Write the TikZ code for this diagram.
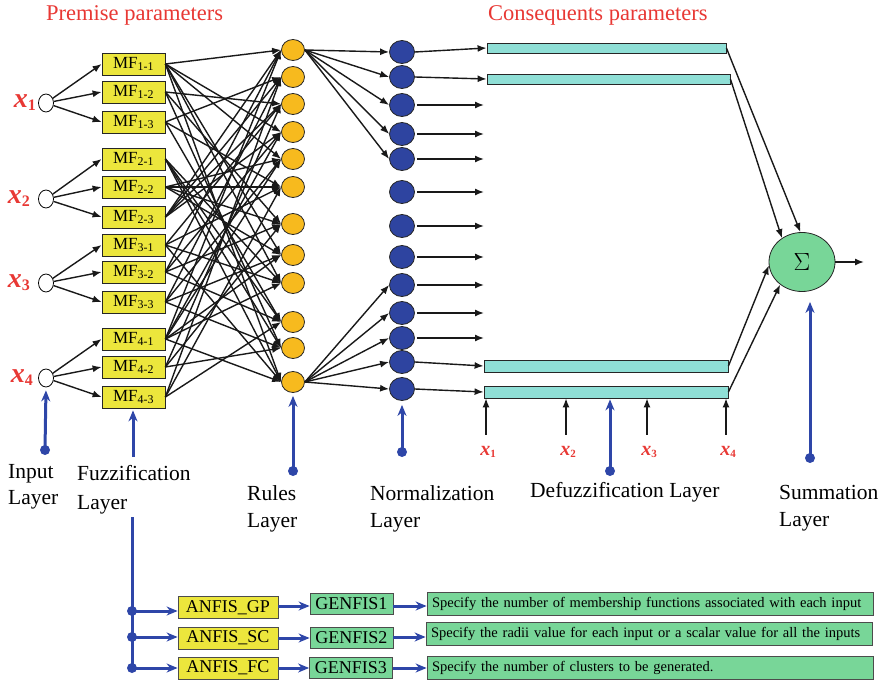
\documentclass[tikz,border=0pt]{standalone}
\usepackage{fontspec}
\setmainfont{Liberation Serif}
\usetikzlibrary{arrows.meta,positioning,shapes.geometric}

\definecolor{mfyellow}{RGB}{236,230,60}
\definecolor{ruleorange}{RGB}{247,186,30}
\definecolor{normblue}{RGB}{46,68,160}
\definecolor{barcyan}{RGB}{143,223,214}
\definecolor{sumgreen}{RGB}{120,214,152}
\definecolor{labred}{RGB}{232,56,52}
\definecolor{layerblue}{RGB}{46,70,168}

\begin{document}
\begin{tikzpicture}[x=1pt,y=-1pt]
    \tikzstyle{input}=[ellipse, draw=black, thick, fill=white, minimum width=15pt, minimum height=18pt, inner sep=0pt]
    \tikzstyle{mf}=[rectangle, draw=black!85, thick, fill=mfyellow, minimum width=63pt, minimum height=22pt, inner sep=0pt, font=\fontsize{17}{17}\selectfont]
    \tikzstyle{rule}=[ellipse, draw=black!85, thick, fill=ruleorange, minimum width=23pt, minimum height=21pt, inner sep=0pt]
    \tikzstyle{norm}=[ellipse, draw=black!85, thick, fill=normblue, minimum width=25pt, minimum height=23pt, inner sep=0pt]
    \tikzstyle{bar}=[rectangle, draw=black!85, thick, fill=barcyan, inner sep=0pt]
    \tikzstyle{sum}=[ellipse, draw=black!85, thick, fill=sumgreen, minimum width=66pt, minimum height=59pt, inner sep=0pt, font=\fontsize{30}{30}\selectfont]
    \tikzstyle{tool}=[rectangle, draw=black!70, thick, fill=mfyellow, minimum width=100pt, minimum height=22pt, inner sep=0pt, font=\fontsize{18}{18}\selectfont]
    \tikzstyle{gen}=[rectangle, draw=black!70, thick, fill=sumgreen, minimum width=83pt, minimum height=21pt, inner sep=0pt, font=\fontsize{18}{18}\selectfont]
    \tikzstyle{desc}=[rectangle, draw=black!70, thick, fill=sumgreen, minimum width=446pt, minimum height=22pt, inner sep=5pt, text width=436pt, align=left, font=\fontsize{14.5}{14.5}\selectfont]
    \tikzstyle{connect}=[-{Latex[length=9pt,width=7pt]}, line width=1.4pt, black!90]
    \tikzstyle{layer}=[-{Stealth[length=11pt,width=9pt]}, line width=3pt, layerblue]
    \tikzstyle{bus}=[line width=3pt, layerblue]
    \tikzstyle{dot}=[circle, fill=layerblue, inner sep=0pt, minimum size=10pt]
    \tikzstyle{lbl}=[anchor=base west, inner sep=0pt, align=left, font=\fontsize{21.5}{27}\selectfont]
    \tikzstyle{title}=[anchor=base west, inner sep=0pt, text=labred, font=\fontsize{22.5}{22.5}\selectfont]

    \useasboundingbox (0,0) rectangle (889,684);

    % titles
    \node[title] (premise) at (46,21) {Premise parameters};
    \node[title] (conseq) at (488,21) {Consequents parameters};

    % input layer
    \foreach \i/\yy/\xx in {1/103/36,2/199/30,3/283/30,4/378/33} {
      \node[input] (in-\i) at (46,\yy) {};
      \node[anchor=east, inner sep=0pt, text=labred] (xl-\i) at (\xx,\yy)
        {\fontsize{28}{28}\selectfont\bfseries\itshape x\fontsize{16}{16}\selectfont\upshape\raisebox{-3pt}{\i}};
    }

    % fuzzification layer
    \foreach \i/\m/\yy in {1/1/64,1/2/92,1/3/122,2/1/159,2/2/187,2/3/217,
                           3/1/245,3/2/272,3/3/302,4/1/339,4/2/367,4/3/397} {
      \node[mf] (mf-\i-\m) at (133.5,\yy) {MF\textsubscript{\i-\m}};
      \path (in-\i) edge [connect] (mf-\i-\m.west);
    }

    % rules layer
    \foreach \r/\yy in {1/50,2/77,3/104,4/132,5/159,6/187,7/224,8/255,9/283,10/322,11/348,12/382}
      \node[rule] (rule-\r) at (293,\yy) {};

    % each rule takes one MF of every input
    \foreach \r in {1,...,12}
      \foreach \i in {1,...,4} {
        \pgfmathtruncatemacro{\m}{mod(\r*(\i+1)+\i+div(\r-1,4)*\i,3)+1}
        \path (mf-\i-\m.east) edge [connect] (rule-\r.west);
      }

    % normalization layer
    \foreach \n/\yy in {1/52,2/77,3/105,4/134,5/159,6/192,7/226,8/257,9/285,10/313,11/338,12/362,13/389}
      \node[norm] (norm-\n) at (402,\yy) {};
    \foreach \n in {1,...,5}
      \path (rule-1.east) edge [connect] (norm-\n.west);
    \foreach \n in {9,...,13}
      \path (rule-12.east) edge [connect] (norm-\n.west);

    % defuzzification layer
    \node[bar, minimum width=239pt, minimum height=10pt] (bar-1) at (606.5,48) {};
    \node[bar, minimum width=243pt, minimum height=10pt] (bar-2) at (608.5,79) {};
    \node[bar, minimum width=244pt, minimum height=12pt] (bar-3) at (606,366) {};
    \node[bar, minimum width=244pt, minimum height=12pt] (bar-4) at (606,392) {};

    \path (norm-1.east) edge [connect] (bar-1.west)
          (norm-2.east) edge [connect] (bar-2.west)
          (norm-12.east) edge [connect] (bar-3.west)
          (norm-13.east) edge [connect] (bar-4.west);
    \foreach \n in {3,...,11} {
      \coordinate (nout-\n) at (norm-\n.east -| 484,0);
      \path ([xshift=2pt]norm-\n.east) edge [connect] (nout-\n);
    }

    % crisp inputs under the last bar
    \foreach \k/\xx in {1/486,2/566,3/647,4/726} {
      \coordinate (xin-\k) at (\xx,435);
      \path (xin-\k) edge [connect] (xin-\k |- bar-4.south);
      \node[anchor=base, inner sep=0pt, text=labred] (xb-\k) at (\xx+2,455)
        {\fontsize{20}{20}\selectfont\bfseries\itshape x\fontsize{11}{11}\selectfont\upshape\raisebox{-2pt}{\k}};
    }

    % summation
    \node[sum] (sum) at (802,262) {$\Sigma$};
    \coordinate (out) at (864,262);
    \path (bar-1.east) edge [connect] (sum.93)
          (bar-2.east) edge [connect] (sum.130)
          (bar-3.east) edge [connect] (sum.186)
          (bar-4.east) edge [connect] (sum.226)
          (sum) edge [connect] (out);

    % layer markers
    \node[dot] (d-in) at (45,450) {};
    \node[dot] (d-rule) at (293,471) {};
    \node[dot] (d-norm) at (402,452) {};
    \node[dot] (d-defuz) at (610,471) {};
    \node[dot] (d-sum) at (810,458) {};
    \coordinate (fz-start) at (133,457);
    \draw[layer, shorten >=3pt] (d-in.center) -- (in-4.south);
    \draw[layer, shorten >=2pt] (fz-start) -- (mf-4-3.south -| fz-start);
    \draw[layer, shorten >=3pt] (d-rule.center) -- (rule-12.south);
    \draw[layer, shorten >=4pt] (d-norm.center) -- (norm-13.south -| d-norm);
    \draw[layer, shorten >=1pt] (d-defuz.center) -- (bar-4.south -| d-defuz);
    \draw[layer, shorten >=10pt] (d-sum.center) -- (sum.south -| d-sum);

    % base anchor sits on the last line
    \node[lbl, font=\fontsize{21.5}{26}\selectfont] (l-in) at (8,504) {Input\\Layer};
    \node[lbl, font=\fontsize{21.5}{29}\selectfont] (l-fz) at (77,509) {Fuzzification\\Layer};
    \node[lbl] (l-rule) at (247,527) {Rules\\Layer};
    \node[lbl] (l-norm) at (370,527) {Normalization\\Layer};
    \node[lbl] (l-defuz) at (530,497) {Defuzzification Layer};
    \node[lbl] (l-sum) at (779,526) {Summation\\Layer};

    % training options
    \coordinate (bus-top) at (132,517);
    \node[tool] (gp) at (228,607.5) {ANFIS\_GP};
    \node[tool] (sc) at (228,638) {ANFIS\_SC};
    \node[tool] (fc) at (228,668) {ANFIS\_FC};
    \node[gen] (gen-1) at (351.5,603.5) {GENFIS1};
    \node[gen] (gen-2) at (351.5,638) {GENFIS2};
    \node[gen] (gen-3) at (351,668) {GENFIS3};
    \node[desc] (desc-1) at (650,604) {Specify the number of membership functions associated with each input};
    \node[desc] (desc-2) at (649,634) {Specify the radii value for each input or a scalar value for all the inputs};
    \node[desc] (desc-3) at (650,668) {Specify the number of clusters to be generated.};

    \node[dot] (b-1) at (132,611) {};
    \node[dot] (b-2) at (132,637) {};
    \node[dot] (b-3) at (132,668) {};
    \draw[bus] (bus-top) -- (b-3.center);
    \draw[layer] (b-1.center) -- (b-1 -| gp.west);
    \draw[layer] (b-2.center) -- (b-2 -| sc.west);
    \draw[layer] (b-3.center) -- (b-3 -| fc.west);
    \draw[layer] (gp.east |- 0,606) -- (gen-1.west |- 0,606);
    \draw[layer] (sc.east) -- (gen-2.west);
    \draw[layer] (fc.east) -- (gen-3.west);
    \draw[layer] (gen-1.east |- 0,606) -- (desc-1.west |- 0,606);
    \draw[layer] (gen-2.east |- 0,637) -- (desc-2.west |- 0,637);
    \draw[layer] (gen-3.east) -- (desc-3.west);
\end{tikzpicture}
\end{document}
